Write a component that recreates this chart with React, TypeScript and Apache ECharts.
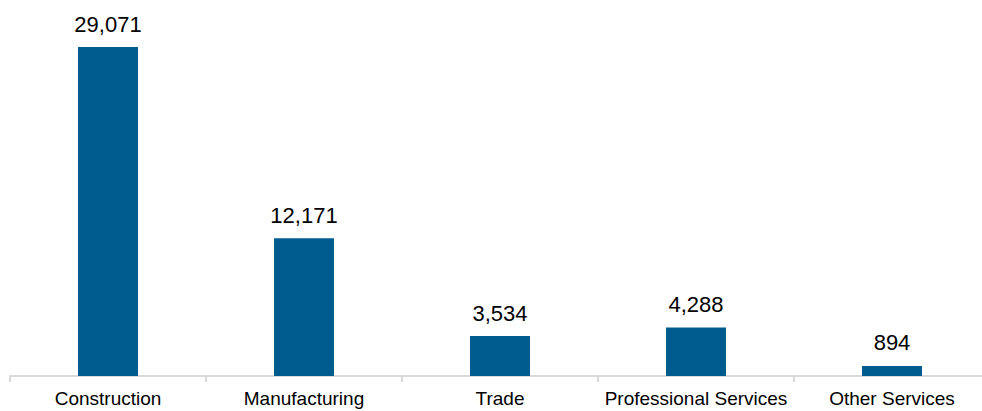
import React, { useEffect, useRef } from "react";
import * as echarts from "echarts";

const categories = ["Construction", "Manufacturing", "Trade", "Professional Services", "Other Services"];
const values = [29071, 12171, 3534, 4288, 894];

export default function App() {
  const ref = useRef<HTMLDivElement>(null);
  useEffect(() => {
    const chart = echarts.init(ref.current!, null, { renderer: "svg" });
    chart.setOption({
      animation: false,
      grid: { left: 10, right: 0, top: 47, bottom: 35, containLabel: false },
      xAxis: {
        type: "category",
        data: categories,
        axisLine: { show: true, lineStyle: { color: "#d9d9d9", width: 2 } },
        axisTick: { show: true, length: 6, lineStyle: { color: "#d9d9d9", width: 2 } },
        axisLabel: {
          color: "#000",
          fontFamily: "Arial, 'Liberation Sans', sans-serif",
          fontSize: 19,
          margin: 13,
          interval: 0,
        },
      },
      yAxis: { type: "value", show: false, min: 0, max: "dataMax", splitLine: { show: false } },
      series: [
        {
          type: "bar",
          data: values,
          barWidth: 60,
          itemStyle: { color: "#005b8f" },
          label: {
            show: true,
            position: "top",
            distance: 12,
            color: "#000",
            fontFamily: "Arial, 'Liberation Sans', sans-serif",
            fontSize: 22,
            formatter: (p: any) => p.value.toLocaleString("en-US"),
          },
        },
      ],
    });
    return () => chart.dispose();
  }, []);
  return (
    <div style={{ position: "fixed", left: 0, top: 0, width: 982, height: 411, overflow: "hidden", background: "#fff" }}>
      <div ref={ref} style={{ width: 990, height: 411 }} />
    </div>
  );
}
